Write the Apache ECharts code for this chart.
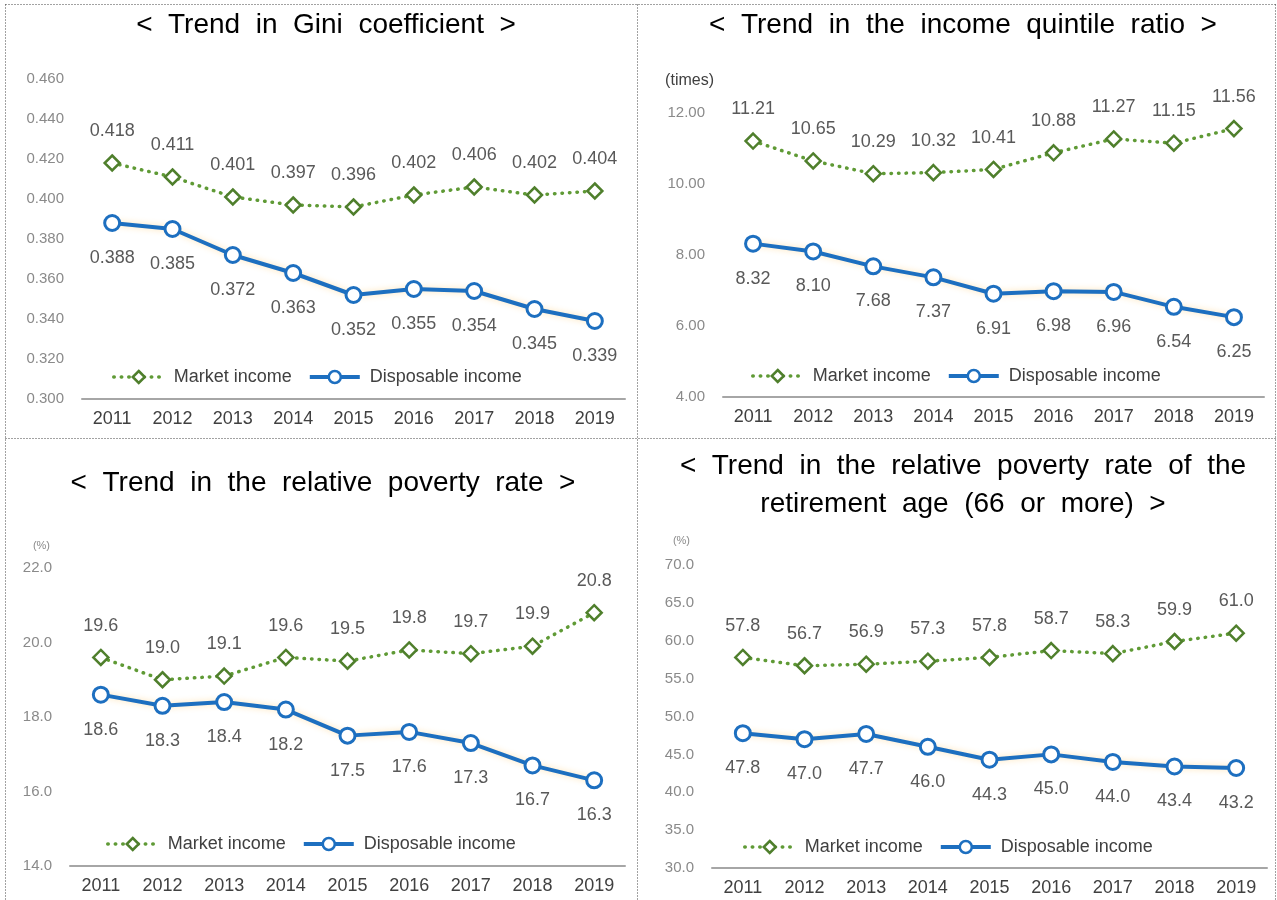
<!DOCTYPE html>
<html>
<head>
<meta charset="utf-8">
<title>Income distribution indicators, 2011-2019</title>
<script src="https://cdn.jsdelivr.net/npm/echarts@6/dist/echarts.min.js"></script>
<style>
  html, body { margin: 0; padding: 0; background: #ffffff; }
  #chart { width: 1277px; height: 900px; }
</style>
</head>
<body>
<div id="chart"></div>
<script>
// ---- data ----
const years = ['2011', '2012', '2013', '2014', '2015', '2016', '2017', '2018', '2019'];
const seriesNames = ['Market income', 'Disposable income'];

const giniMarket = [0.418, 0.411, 0.401, 0.397, 0.396, 0.402, 0.406, 0.402, 0.404];
const giniDisposable = [0.388, 0.385, 0.372, 0.363, 0.352, 0.355, 0.354, 0.345, 0.339];

const quintileMarket = [11.21, 10.65, 10.29, 10.32, 10.41, 10.88, 11.27, 11.15, 11.56];
const quintileDisposable = [8.32, 8.10, 7.68, 7.37, 6.91, 6.98, 6.96, 6.54, 6.25];

const povertyMarket = [19.6, 19.0, 19.1, 19.6, 19.5, 19.8, 19.7, 19.9, 20.8];
const povertyDisposable = [18.6, 18.3, 18.4, 18.2, 17.5, 17.6, 17.3, 16.7, 16.3];

const elderlyMarket = [57.8, 56.7, 56.9, 57.3, 57.8, 58.7, 58.3, 59.9, 61.0];
const elderlyDisposable = [47.8, 47.0, 47.7, 46.0, 44.3, 45.0, 44.0, 43.4, 43.2];

const panelTitles = [
  '<  Trend  in  Gini  coefficient  >',
  '<  Trend  in  the  income  quintile  ratio  >',
  '<  Trend  in  the  relative  poverty  rate  >',
  '<  Trend  in  the  relative  poverty  rate  of  the\nretirement  age  (66  or  more)  >'
];
const unitNames = ['', '(times)', '(%)', '(%)'];

// ---- styling ----
const FONT = '"Liberation Sans", Arial, sans-serif';
const GREEN_LINE = '#5f9a35';
const GREEN_MARK = '#4f7f2c';
const BLUE = '#1d6fc0';

// per-panel axis ranges and number formats
const panels = [
  { market: giniMarket, disp: giniDisposable, min: 0.30, max: 0.46, step: 0.02, dec: 3, tickDec: 3,
    grid: { left: 82, top: 79, width: 543, height: 320 }, legend: { left: 112, top: 368 },
    titlePos: [326, 6], tickColor: '#8a8a8a', tickSize: 15 },
  { market: quintileMarket, disp: quintileDisposable, min: 4, max: 12, step: 2, dec: 2, tickDec: 2,
    grid: { left: 723, top: 113, width: 541, height: 284 }, legend: { left: 751, top: 367 },
    titlePos: [963, 6], tickColor: '#8a8a8a', tickSize: 15 },
  { market: povertyMarket, disp: povertyDisposable, min: 14, max: 22, step: 2, dec: 1, tickDec: 1,
    grid: { left: 70, top: 568, width: 555, height: 298 }, legend: { left: 106, top: 835 },
    titlePos: [323, 464], tickColor: '#8a8a8a', tickSize: 15 },
  { market: elderlyMarket, disp: elderlyDisposable, min: 30, max: 70, step: 5, dec: 1, tickDec: 1,
    grid: { left: 712, top: 565, width: 555, height: 303 }, legend: { left: 743, top: 838 },
    titlePos: [963, 447], tickColor: '#8a8a8a', tickSize: 15 }
];

const unitPadding = [0, 9, 20, 22];
const unitGap = [0, 32, 22, 24];
const unitStyle = [
  null,
  { fontSize: 16, color: '#404040' },
  { fontSize: 11, color: '#8a8a8a' },
  { fontSize: 11, color: '#8a8a8a' }
];

const marketLine = { color: GREEN_LINE, width: 3.5, type: [0.5, 7], cap: 'round' };
const marketItem = { color: '#ffffff', borderColor: GREEN_MARK, borderWidth: 2.5 };
const dispLine = { color: BLUE, width: 4, shadowColor: 'rgba(255, 196, 90, 0.45)', shadowBlur: 6 };
const dispItem = { color: '#ffffff', borderColor: BLUE, borderWidth: 3 };

const option = {
  animation: false,
  backgroundColor: '#ffffff',
  textStyle: { fontFamily: FONT },
  title: panels.map((p, i) => ({
    text: panelTitles[i],
    left: p.titlePos[0],
    top: p.titlePos[1],
    textAlign: 'center',
    padding: 0,
    textStyle: { fontFamily: FONT, fontSize: 28, fontWeight: 'normal', color: '#000000', lineHeight: 38 }
  })),
  legend: panels.map((p, i) => ({
    data: [
      { name: seriesNames[0], lineStyle: { width: 3.5, type: [0.5, 7], cap: 'round', color: GREEN_LINE },
        itemStyle: { color: '#ffffff', borderColor: GREEN_MARK, borderWidth: 2.5 } },
      { name: seriesNames[1], lineStyle: { width: 4, color: BLUE },
        itemStyle: { color: '#ffffff', borderColor: BLUE, borderWidth: 2.5 } }
    ],
    left: p.legend.left,
    top: p.legend.top,
    itemWidth: 50,
    itemHeight: 15,
    itemGap: 16,
    padding: 0,
    selectedMode: false,
    textStyle: { fontFamily: FONT, fontSize: 18, color: '#404040', padding: [0, 0, 0, 5] }
  })),
  grid: panels.map(p => Object.assign({ containLabel: false }, p.grid)),
  xAxis: panels.map((p, i) => ({
    type: 'category',
    gridIndex: i,
    data: years,
    boundaryGap: true,
    axisTick: { show: false },
    axisLine: { show: true, lineStyle: { color: '#a6a6a6', width: 2 } },
    axisLabel: { fontFamily: FONT, fontSize: 18, color: '#404040', margin: 11 }
  })),
  yAxis: panels.map((p, i) => ({
    type: 'value',
    gridIndex: i,
    min: p.min,
    max: p.max,
    interval: p.step,
    name: unitNames[i],
    nameLocation: 'end',
    nameGap: unitGap[i],
    nameTextStyle: Object.assign({ fontFamily: FONT, align: 'right', verticalAlign: 'middle',
      padding: [0, unitPadding[i], 0, 0] }, unitStyle[i] || {}),
    axisLine: { show: false },
    axisTick: { show: false },
    splitLine: { show: false },
    axisLabel: {
      fontFamily: FONT, fontSize: p.tickSize, color: p.tickColor, margin: 18,
      formatter: v => v.toFixed(p.tickDec)
    }
  })),
  series: []
};

panels.forEach((p, i) => {
  option.series.push({
    name: seriesNames[0],
    type: 'line',
    xAxisIndex: i,
    yAxisIndex: i,
    data: p.market,
    symbol: 'diamond',
    symbolSize: 15,
    showAllSymbol: true,
    lineStyle: marketLine,
    itemStyle: marketItem,
    label: {
      show: true, position: 'top', distance: 14,
      fontFamily: FONT, fontSize: 18, color: '#595959',
      formatter: d => d.value.toFixed(p.dec)
    },
    z: 3
  });
  option.series.push({
    name: seriesNames[1],
    type: 'line',
    xAxisIndex: i,
    yAxisIndex: i,
    data: p.disp,
    symbol: 'circle',
    symbolSize: 15,
    showAllSymbol: true,
    lineStyle: dispLine,
    itemStyle: dispItem,
    label: {
      show: true, position: 'bottom', distance: 17,
      fontFamily: FONT, fontSize: 18, color: '#595959',
      formatter: d => d.value.toFixed(p.dec)
    },
    z: 4
  });
});

// dotted frame around and between the four panels
const frameStyle = { stroke: '#444444', lineWidth: 1, lineDash: [1, 2] };
const frameLines = [
  [5, 4, 1276, 4],
  [5, 4, 5, 900],
  [637, 4, 637, 900],
  [1275, 4, 1275, 900],
  [5, 438, 1276, 438]
];
option.graphic = frameLines.map(l => ({
  type: 'line',
  silent: true,
  shape: { x1: l[0] + 0.5, y1: l[1] + 0.5, x2: l[2] + 0.5, y2: l[3] + 0.5 },
  style: frameStyle
}));

const chart = echarts.init(document.getElementById('chart'), null, { renderer: 'canvas' });
chart.setOption(option);
</script>
</body>
</html>
